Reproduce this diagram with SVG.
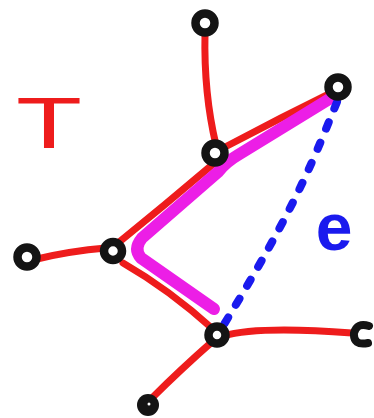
<svg xmlns="http://www.w3.org/2000/svg" width="374" height="418" viewBox="0 0 374 418">
<style>
.edge{fill:none;stroke:#ee1c1c;stroke-width:7;stroke-linecap:round;stroke-linejoin:round}
.path{fill:none;stroke:#ec1ee6;stroke-width:12;stroke-linecap:round;stroke-linejoin:round}
.dash{fill:none;stroke:#1a1aee;stroke-width:8;stroke-linecap:round;stroke-dasharray:7 15}
.node{fill:#fff;stroke:#141414;stroke-width:8.5}
.nodep{fill:none;stroke:#141414;stroke-width:8;stroke-linecap:round}
.lbl{font-family:"Liberation Sans",Arial,sans-serif}
</style>
<rect width="374" height="418" fill="#fff"/>
<g id="connectors">
  <path class="edge" d="M205,33 C204,80 210,120 216,145"/>
  <path class="edge" d="M227,146 Q280,118 333,92"/>
  <path class="edge" d="M212,165 Q165,205 118,243"/>
  <path class="edge" d="M37,259 Q70,251 106,248"/>
  <path class="edge" d="M123,263 Q170,290 214,330"/>
  <path class="edge" d="M223,336 C250,328 300,329 352,333"/>
  <path class="edge" d="M213,341 Q180,370 152,398"/>
  <path class="path" d="M331,98 L238,155 Q226,162 218,172 L142,238 Q133,249 141,258 L214,309"/>
  <path class="dash" d="M337,102 C315,155 300,200 223,326"/>
</g>
<g id="node-top"><circle class="node" cx="205" cy="23" r="9.5"/></g>
<g id="node-right"><circle class="node" cx="338" cy="87" r="9.5"/></g>
<g id="node-mid"><circle class="node" cx="215" cy="153" r="9.5"/></g>
<g id="node-left"><circle class="node" cx="27" cy="257" r="9.5"/></g>
<g id="node-leftmid"><circle class="node" cx="113" cy="251" r="9"/></g>
<g id="node-lower"><circle class="node" cx="217" cy="335" r="8.5"/></g>
<g id="node-lowright"><path class="nodep" d="M369,326 Q357,322 354,333 Q353,346 368,343"/></g>
<g id="node-bottom"><circle cx="148" cy="405" r="11" fill="#141414"/><circle cx="149" cy="404" r="1.5" fill="#fff"/></g>
<text class="lbl" x="16" y="148" font-size="72" fill="#ee1c1c" textLength="66" lengthAdjust="spacingAndGlyphs">T</text>
<text class="lbl" x="334" y="250" font-size="66" font-weight="bold" fill="#1a1aee" text-anchor="middle">e</text>
</svg>
